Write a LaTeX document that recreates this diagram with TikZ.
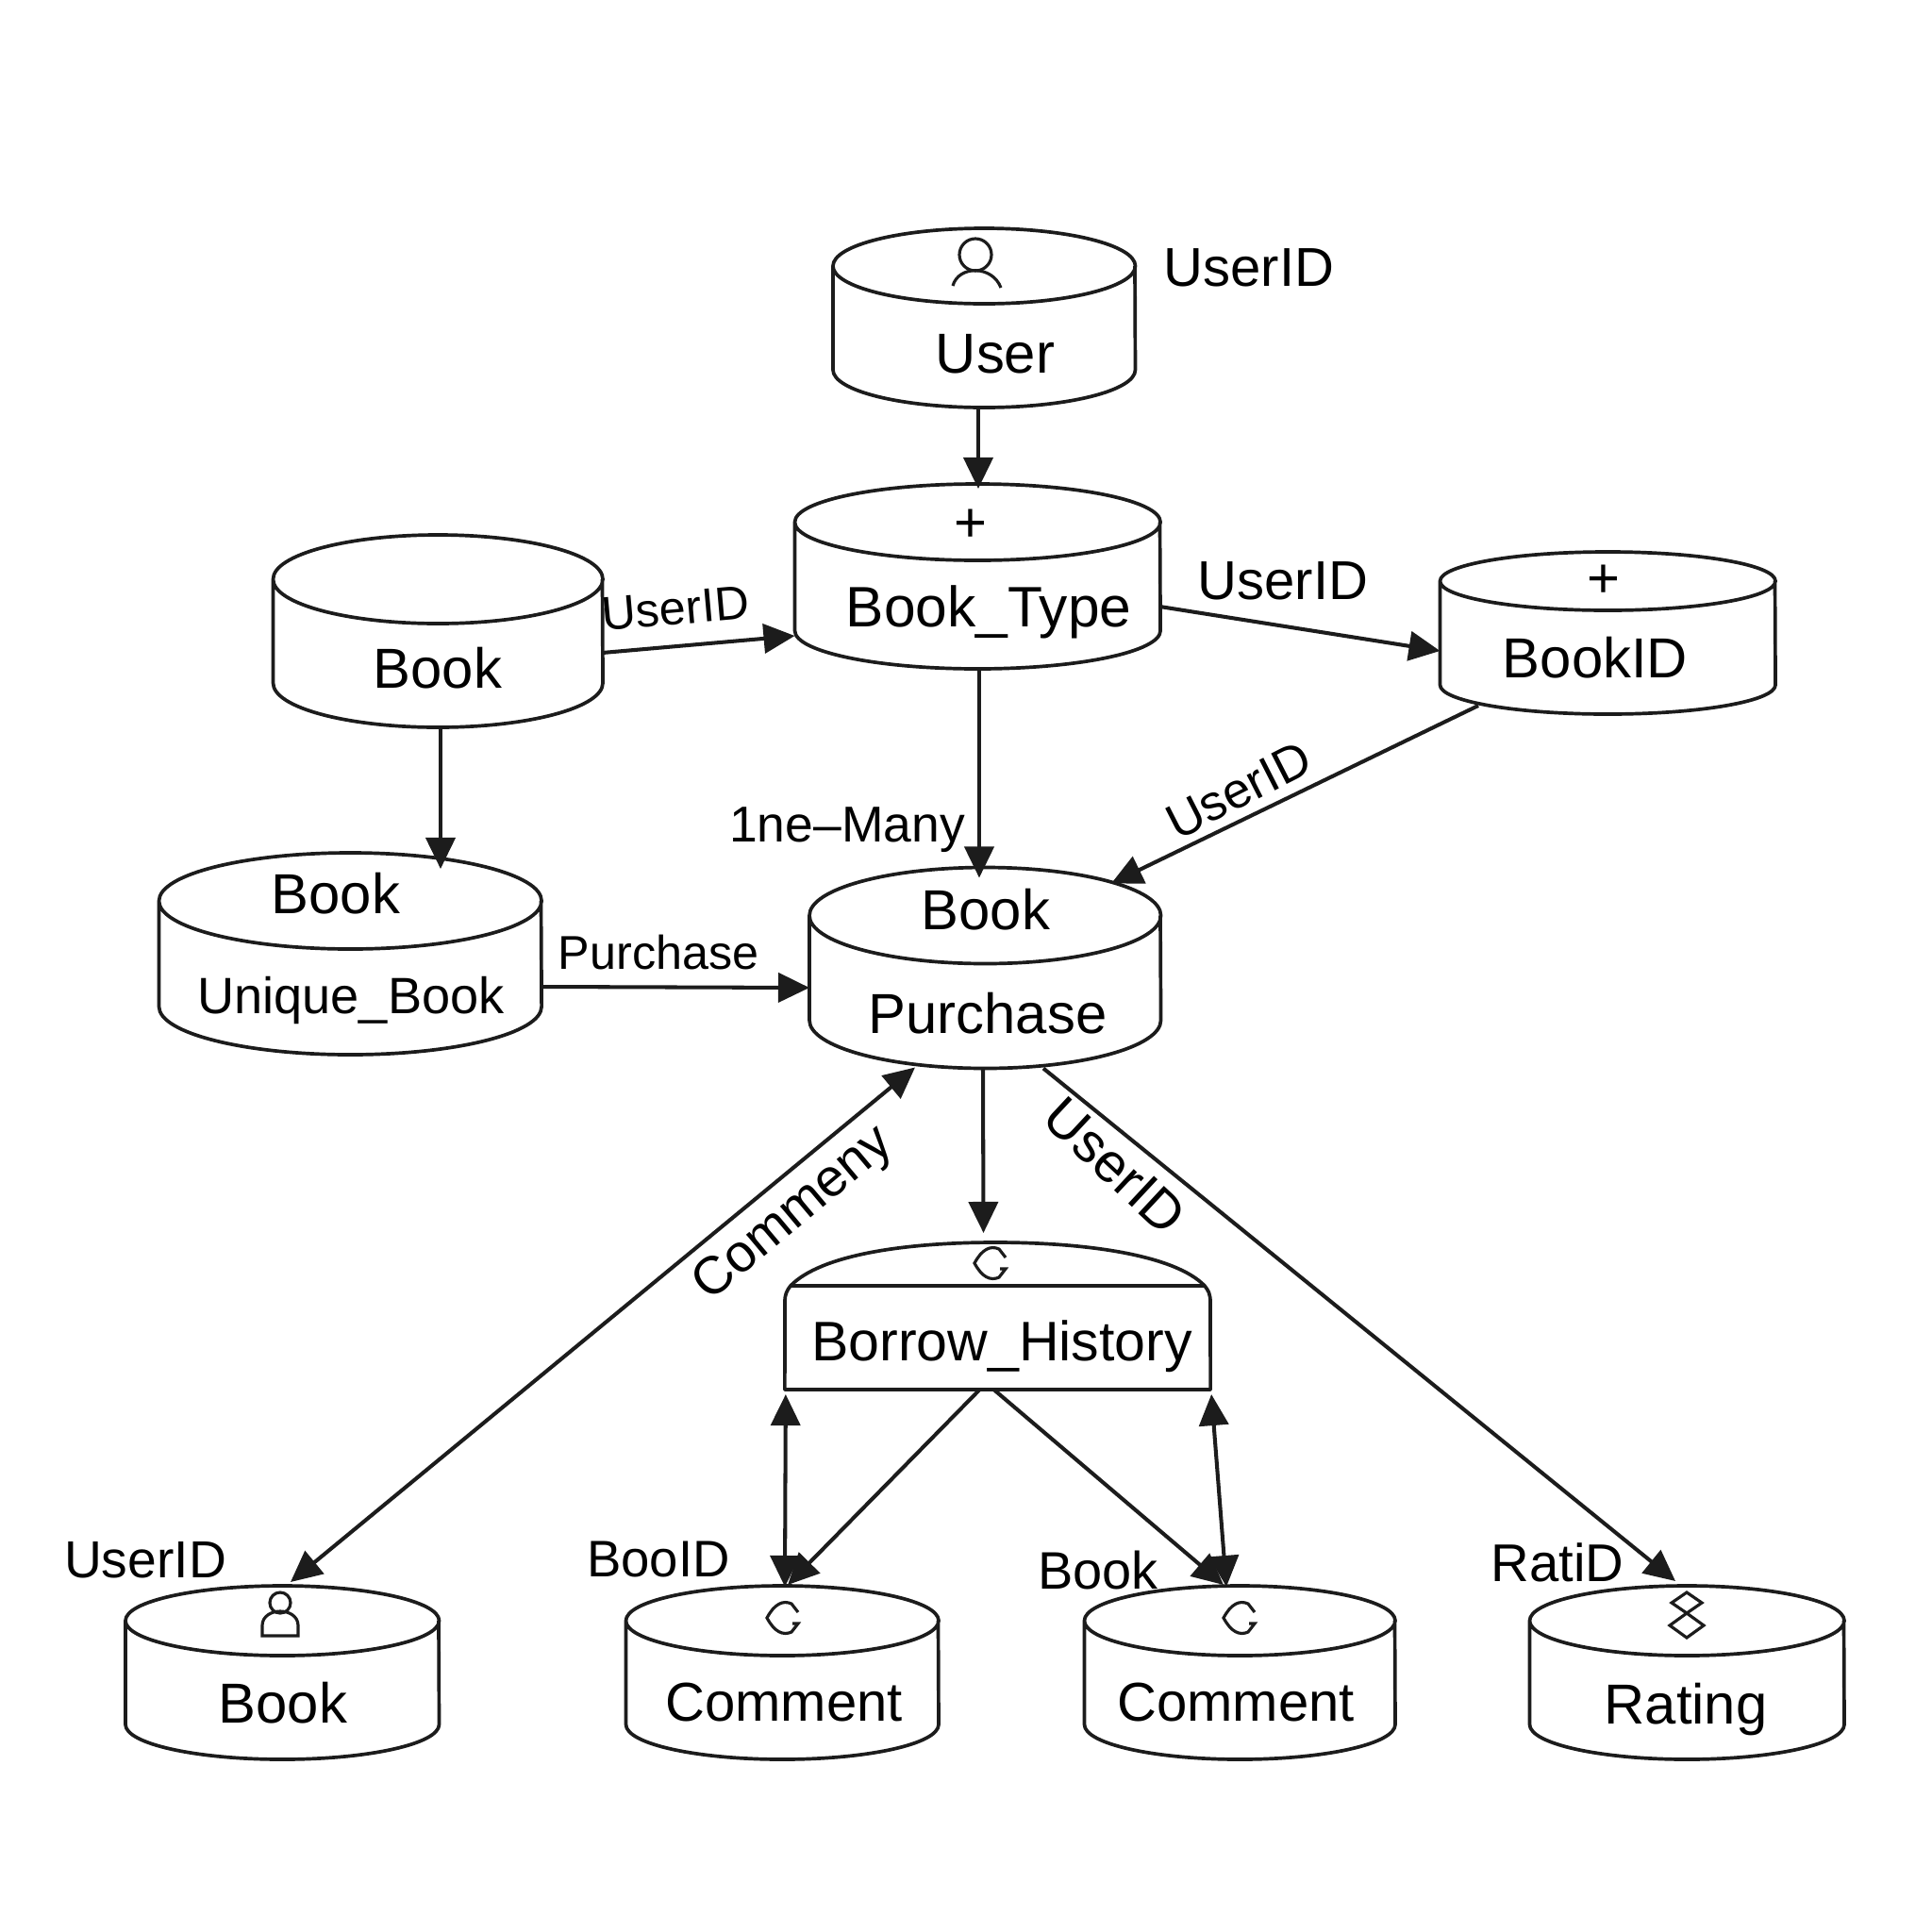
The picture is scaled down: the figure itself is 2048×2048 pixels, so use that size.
\documentclass[tikz,border=0pt]{standalone}
\usepackage{fontspec}
\setmainfont{Liberation Sans}
\usetikzlibrary{arrows.meta, calc}
\definecolor{ink}{HTML}{1C1C1C}
\tikzset{
    cyl/.style={rectangle, inner sep=0pt, outer sep=0pt},
    cylline/.style={draw=ink, line width=1.05pt, line join=round},
    txt/.style={inner sep=0pt, outer sep=0pt, anchor=base, text=black,
    	font=\fontsize{17}{20}\selectfont},
    lbltxt/.style={txt, font=\fontsize{16.5}{20}\selectfont},
    midtxt/.style={txt, font=\fontsize{15.7}{18}\selectfont},
    smalltxt/.style={txt, font=\fontsize{14.3}{17}\selectfont},
    arr/.style={draw=ink, line width=1.15pt, -{Triangle[length=3.3mm, width=3.1mm]}},
    dblarr/.style={draw=ink, line width=1.15pt,
    	{Triangle[length=3.3mm, width=3.1mm]}-{Triangle[length=3.3mm, width=3.1mm]}},
    icon/.style={draw=ink, line width=.9pt},
    personicon/.pic={
    	\draw[icon] (0,0) circle[radius=17];
    	\draw[icon] (-24,33) .. controls (-18,11) and (18,11) .. (27,35);
    },
    bustalticon/.pic={
    	\draw[icon] (0,0) circle[radius=11];
    	\draw[icon] (-19,35) -- (-19,24) .. controls (-19,14) and (-9,9) .. (0,9)
    		.. controls (9,9) and (19,14) .. (19,24) -- (19,35) -- cycle;
    },
    cicon/.pic={
    	\draw[icon] (16,-6) -- (9,-15) .. controls (0,-19) and (-9,-15) .. (-17,0)
    		.. controls (-9,15) and (0,19) .. (9,15) -- (16,6) -- (10,6);
    },
    diamicon/.pic={
    	\draw[icon] (0,-24) -- (16,-13) -- (0,-2) -- (-16,-13) -- cycle;
    	\draw[icon] (0,-2) -- (18,11) -- (0,24) -- (-18,11) -- cycle;
    }
}
% name, x, y, width, height, end radius
\newcommand{\dbcyl}[6]{
	\node (#1) [cyl, minimum width=#4*0.01cm, minimum height=#5*0.01cm] at (#2,#3) {};
	\draw[cylline] ($(#1.north west)+(0,#6)$)
		arc[start angle=180, end angle=540, x radius=#4*0.005cm, y radius=#6*0.01cm]
		-- ($(#1.south west)+(0,-#6)$)
		arc[start angle=180, end angle=360, x radius=#4*0.005cm, y radius=#6*0.01cm]
		-- ($(#1.north east)+(0,#6)$);
}

\begin{document}
\begin{tikzpicture}[x=0.01cm, y=-0.01cm]
	\path[use as bounding box, fill=white] (0,0) rectangle (2048,2048);

	\dbcyl{user}{1043}{337}{320}{190}{40}
	\dbcyl{booktype}{1036}{611}{387}{196}{40.5}
	\dbcyl{book}{464}{669}{349}{204}{47}
	\dbcyl{bookid}{1704}{671}{355}{172}{31}
	\dbcyl{unique}{371}{1011}{405}{214}{51}
	\dbcyl{purchase}{1044}{1026}{372}{213}{51}
	\dbcyl{bookb}{299}{1773}{332}{184}{37}
	\dbcyl{comment1}{829}{1773}{331}{184}{37}
	\dbcyl{comment2}{1314}{1773}{329}{184}{37}
	\dbcyl{rating}{1788}{1773}{333}{184}{37}
	\node (borrow) [cyl, minimum width=4.51cm, minimum height=1.1cm] at (1057.5,1418) {};

	\draw[cylline] (832,1380) .. controls (832,1372) and (834,1368) .. (838,1363)
		-- (1277,1363) .. controls (1281,1368) and (1283,1372) .. (1283,1380)
		-- (borrow.south east) -- (borrow.south west) -- cycle;
	\draw[cylline] (838,1363) .. controls (870,1330) and (960,1317) .. (1055,1317)
		.. controls (1150,1317) and (1245,1330) .. (1277,1363);

	\node (tuser) [txt] at (1055,395) {User};
	\node (ttype) [txt, font=\fontsize{17.2}{20}\selectfont] at (1048,664) {Book\_Type};
	\node (tbook) [txt] at (464,729) {Book};
	\node (tbookid) [txt] at (1691,718) {BookID};
	\node (tbook2) [txt] at (356,968) {Book};
	\node (tunique) [midtxt, font=\fontsize{15.4}{18}\selectfont] at (372,1074) {Unique\_Book};
	\node (tbook3) [txt] at (1045,985) {Book};
	\node (tpurchase) [txt] at (1047,1095) {Purchase};
	\node (tborrow) [txt, font=\fontsize{16.8}{20}\selectfont] at (1062,1442) {Borrow\_History};
	\node (tbookb) [txt] at (300,1826) {Book};
	\node (tcomment1) [lbltxt] at (831,1824) {Comment};
	\node (tcomment2) [lbltxt] at (1310,1824) {Comment};
	\node (trating) [txt] at (1787,1827) {Rating};

	\node (plus1) [txt, anchor=center] at (1029,557) {+};
	\node (plus2) [txt, anchor=center] at (1700,616) {+};

	\node (l1) [lbltxt] at (1324,303) {UserID};
	\node (l2) [smalltxt, anchor=center, rotate=5] at (716,645) {UserID};
	\node (l3) [lbltxt] at (1360,635) {UserID};
	\node (l4) [midtxt, font=\fontsize{15.2}{18}\selectfont] at (898,892) {1ne–Many};
	\node (l5) [smalltxt, anchor=center, rotate=27, font=\fontsize{15}{18}\selectfont] at (1313,838) {UserID};
	\node (l6) [smalltxt] at (698,1027) {Purchase};
	\node (l7) [lbltxt, anchor=center, rotate=40, font=\fontsize{16}{18}\selectfont] at (842,1288) {Commeny};
	\node (l8) [lbltxt, anchor=center, rotate=-43] at (1182,1236) {UserID};
	\node (l9) [midtxt, font=\fontsize{15.7}{18}\selectfont] at (154,1672) {UserID};
	\node (l10) [midtxt, font=\fontsize{15.5}{18}\selectfont] at (698,1671) {BooID};
	\node (l11) [midtxt, font=\fontsize{15.9}{18}\selectfont] at (1164,1684) {Book};
	\node (l12) [midtxt, font=\fontsize{16.0}{18}\selectfont] at (1651,1676) {RatiD};

	\pic at (1034,270) {personicon};
	\pic at (297,1699) {bustalticon};
	\pic at (1050,1339) {cicon};
	\pic at (830,1715) {cicon};
	\pic at (1314,1715) {cicon};
	\pic at (1788,1712) {diamicon};

	\draw ($(user.south)+(-6,0)$) edge[arr] ($(booktype.north)+(1,5)$);
	\draw ($(book.east)+(0,23)$) edge[arr] ($(booktype.west)+(0,63)$);
	\draw ($(booktype.east)+(0,32)$) edge[arr] ($(bookid.west)+(0,19)$);
	\draw ($(booktype.south)+(2,0)$) edge[arr] ($(purchase.north)+(-6,11)$);
	\draw ($(book.south)+(3,0)$) edge[arr] ($(unique.north)+(96,17)$);
	\draw ($(bookid.south)+(-137,-9)$) edge[arr] ($(purchase.north)+(134,17)$);
	\draw ($(unique.east)+(0,35)$) edge[arr] ($(purchase.west)+(0,21)$);
	\draw ($(purchase.south)+(-2,0)$) edge[arr] ($(borrow.north)+(-15,-56)$);
	\draw ($(purchase.south)+(-74,-1)$) edge[dblarr] ($(bookb.north)+(9,-4)$);
	\draw ($(purchase.south)+(62,0)$) edge[arr] ($(rating.north)+(-12,-5)$);
	\draw ($(borrow.south west)+(1,5)$) edge[dblarr] ($(comment1.north)+(3,1)$);
	\draw ($(borrow.south)+(-19,0)$) edge[arr] ($(comment1.north)+(6,-1)$);
	\draw ($(borrow.south)+(-4,0)$) edge[arr] ($(comment2.north)+(-17,-1)$);
	\draw ($(borrow.south east)+(1,5)$) edge[dblarr] ($(comment2.north)+(-14,1)$);
\end{tikzpicture}
\end{document}
